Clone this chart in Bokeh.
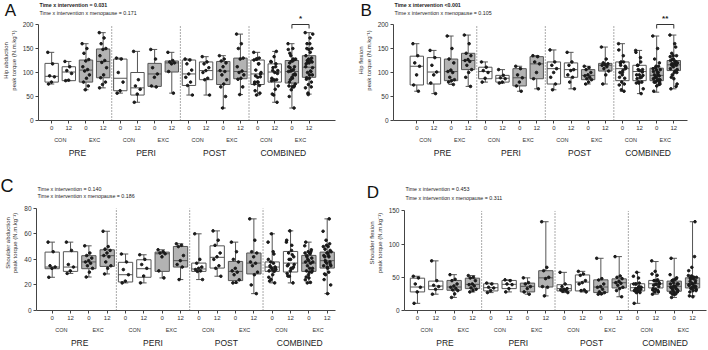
from bokeh.plotting import figure
from bokeh.models import Range1d, LinearAxis, FixedTicker, Label
from bokeh.layouts import column, row
from bokeh.embed import file_html
from bokeh.resources import INLINE

GROUPS = ["PRE", "PERI", "POST", "COMBINED"]
ARMS = ["CON", "EXC"]
TIMES = ["0", "12"]

# ---- Panel A: Hip abduction (box order per group: CON 0, CON 12, EXC 0, EXC 12)
A_min = [76, 83, 64, 68, 57, 38, 70, 57, 53, 53, 26, 54, 53, 38, 26, 55]
A_q1 = [80, 83, 80, 89, 62, 53, 71, 101, 73, 85, 75, 87, 75, 80, 78, 90]
A_med = [92, 101, 105, 123, 88, 68, 97, 120, 97, 104, 103, 102, 97, 101, 102, 111]
A_q3 = [119, 112, 126, 149, 128, 100, 119, 124, 126, 122, 123, 130, 126, 118, 125, 135]
A_max = [142, 123, 160, 183, 130, 144, 148, 142, 128, 133, 135, 180, 142, 144, 160, 183]
A_PRE_pts = [[142, 118, 93, 91, 80, 76], [123, 112, 104, 98, 84, 83],
             [160, 150, 140, 127, 124, 112, 106, 103, 95, 88, 80, 72, 64],
             [183, 172, 160, 150, 148, 135, 125, 121, 110, 95, 89, 80, 75, 68]]
A_PERI_pts = [[130, 128, 100, 80, 62, 57], [144, 85, 72, 65, 55, 38],
              [148, 128, 110, 97, 90, 72, 70], [142, 125, 122, 120, 118, 102, 57]]
A_POST_pts = [[128, 126, 118, 105, 97, 90, 80, 73, 53], [133, 122, 118, 110, 104, 100, 88, 85, 53],
              [135, 128, 124, 120, 112, 104, 102, 95, 85, 76, 70, 50, 26],
              [180, 160, 150, 130, 128, 112, 103, 100, 95, 88, 86, 70, 54]]

# ---- Panel B: Hip flexion
B_min = [61, 56, 75, 71, 80, 78, 61, 66, 64, 66, 76, 76, 61, 56, 59, 66]
B_q1 = [74, 76, 83, 106, 87, 80, 72, 87, 76, 90, 85, 103, 83, 83, 83, 104]
B_med = [113, 101, 102, 125, 102, 88, 89, 118, 108, 106, 94, 115, 108, 102, 94, 116]
B_q3 = [134, 131, 128, 140, 111, 94, 108, 133, 122, 120, 106, 119, 122, 115, 109, 125]
B_max = [160, 146, 176, 178, 122, 106, 113, 135, 147, 142, 113, 153, 160, 146, 176, 178]
B_PRE_pts = [[160, 135, 120, 113, 95, 74, 61], [146, 131, 115, 101, 95, 78, 56],
             [176, 150, 128, 120, 105, 102, 100, 90, 85, 83, 80, 75],
             [178, 160, 140, 135, 127, 125, 123, 115, 106, 100, 90, 71]]
B_PERI_pts = [[122, 111, 104, 100, 88, 80], [106, 94, 89, 87, 80, 78],
              [113, 108, 95, 89, 80, 72, 61], [135, 133, 122, 118, 100, 87, 66]]
B_POST_pts = [[147, 122, 115, 108, 100, 90, 76, 64], [142, 122, 115, 106, 104, 95, 90, 80, 66],
              [113, 110, 106, 100, 95, 93, 90, 87, 85, 80, 76],
              [153, 128, 120, 118, 116, 115, 112, 108, 103, 95, 76]]

# ---- Panel C: Shoulder abduction
C_min = [26, 29, 26.2, 28.6, 21.6, 21.6, 25.5, 24.2, 24.2, 26.8, 21.6, 13.2, 21.6, 21.6, 21.6, 13.2]
C_q1 = [32.7, 30.6, 32.7, 34.5, 22.3, 26, 30.6, 34, 30.6, 33.2, 23.4, 28.6, 30.6, 30.1, 30.6, 33.2]
C_med = [34, 34, 38, 42.9, 28, 32.7, 44.4, 39, 32.5, 41.6, 30.6, 37.1, 34, 37.1, 37.1, 39]
C_q3 = [45.7, 46, 42.9, 47.5, 37.7, 39.7, 45.7, 50.1, 37.1, 50.6, 38.4, 45, 38, 46.2, 43.1, 45.7]
C_max = [53.5, 53.5, 50.6, 62, 44.2, 43.6, 47.5, 52.2, 60, 62.3, 53.5, 71.7, 60, 62.3, 53.5, 71.7]
C_PRE_pts = [[53.5, 46, 35, 34, 33, 26], [53.5, 47, 36, 34, 31, 29],
             [50.6, 45, 43, 41, 39, 38, 37, 35, 33, 30, 26.2],
             [62, 50, 48, 47, 45, 43, 42, 38, 35, 33, 28.6]]
C_PERI_pts = [[44.2, 38, 32, 28, 23, 21.6], [43.6, 40, 36, 33, 27, 21.6],
              [47.5, 46, 45, 44.4, 42, 31, 25.5], [52.2, 51, 50, 43, 39, 36, 34, 24.2]]
C_POST_pts = [[60, 40, 37, 34, 33, 32, 31, 30.6, 24.2], [62.3, 55, 51, 45, 42, 40, 35, 33, 26.8],
              [53.5, 46, 40, 38, 33, 31, 30, 28, 24, 22, 21.6],
              [71.7, 55, 46, 45, 42, 38, 37, 35, 30, 28, 20, 13.2]]

# ---- Panel D: Shoulder flexion
D_min = [10.8, 24.6, 19.7, 28, 27, 28, 24.6, 22, 27, 28, 24.6, 20.7, 10.8, 24.6, 19.7, 22]
D_q1 = [28, 31.5, 30.5, 33, 29.5, 33, 28, 35.4, 29.5, 29.5, 27, 34, 29.5, 34, 29, 34]
D_med = [35.4, 36.9, 35.4, 39.4, 34.4, 39.4, 36.4, 49.2, 33, 42.8, 35.4, 41.8, 34.4, 40.3, 36.4, 40.3]
D_q3 = [48.7, 44.3, 45.3, 48.7, 40.3, 45.3, 41.3, 60, 38.9, 53.6, 46.2, 47.7, 40.3, 45.3, 44.3, 49.2]
D_max = [51.6, 74.8, 54, 52.6, 41.3, 46.2, 49.2, 133.8, 57.5, 59, 78.7, 81.2, 57.5, 73.8, 78.7, 133.8]
D_PRE_pts = [[51.6, 49, 40, 35, 28, 10.8], [74.8, 45, 38, 36, 32, 24.6],
             [54, 47, 45, 40, 37, 35, 33, 31, 30, 25, 19.7],
             [52.6, 50, 49, 45, 40, 39, 37, 34, 32, 30, 28]]
D_PERI_pts = [[41.3, 40, 35, 34, 30, 27], [46.2, 45, 40, 39, 33, 28],
              [49.2, 42, 40, 36, 33, 28, 24.6], [133.8, 65, 60, 50, 48, 36, 35, 22]]
D_POST_pts = [[57.5, 40, 36, 33, 32, 31, 30, 29, 27], [59, 55, 53, 45, 42, 40, 31, 30, 28],
              [78.7, 48, 46, 40, 36, 35, 32, 28, 27, 25, 24.6],
              [81.2, 52, 50, 48, 44, 42, 41, 38, 35, 33, 30, 20.7]]

A_notes = ["Time x intervention = 0.031", "Time x intervention x menopause = 0.171"]
B_notes = ["Time x intervention <0.001", "Time x intervention x menopause = 0.105"]
C_notes = ["Time x intervention = 0.140", "Time x intervention x menopause = 0.186"]
D_notes = ["Time x intervention = 0.453", "Time x intervention x menopause = 0.311"]

FONT = "Liberation Sans"
EXC_FILL = "#b3b3b3"
EDGE = "#555555"
AX = "#444444"

PANELS = [
    dict(letter="A", ylabel="Hip abduction\npeak torque (N.m.kg\u207b\u00b9)", ymax=200, yticks=[0, 50, 100, 150, 200],
         stats=(A_min, A_q1, A_med, A_q3, A_max), pts=(A_PRE_pts, A_PERI_pts, A_POST_pts), notes=A_notes, bold=True,
         sig=(14, 15, "*"), frame=(35, 335, 24, 120, 48.3, 308.3), letter_pos=(1, 0, 17), letter_side="right",
         note_pos=(36, 4.5, 12)),
    dict(letter="B", ylabel="Hip flexion\npeak torque (N.m.kg\u207b\u00b9)", ymax=200, yticks=[0, 50, 100, 150, 200],
         stats=(B_min, B_q1, B_med, B_q3, B_max), pts=(B_PRE_pts, B_PERI_pts, B_POST_pts), notes=B_notes, bold=True,
         sig=(14, 15, "**"), frame=(39, 333, 24, 120, 62.3, 319.3), letter_pos=(6, 0, 17), letter_side="right",
         note_pos=(40, 4.5, 12.5)),
    dict(letter="C", ylabel="Shoulder abduction\npeak torque (N.m.kg\u207b\u00b9)", ymax=80, yticks=[0, 20, 40, 60, 80],
         stats=(C_min, C_q1, C_med, C_q3, C_max), pts=(C_PRE_pts, C_PERI_pts, C_POST_pts), notes=C_notes, bold=False,
         sig=None, frame=(36, 335, 33, 136, 51.7, 326.7), letter_pos=(0, 1, 18), letter_side="right",
         note_pos=(37, 13.5, 21)),
    dict(letter="D", ylabel="Shoulder flexion\npeak torque (N.m.kg\u207b\u00b9)", ymax=150, yticks=[0, 50, 100, 150],
         stats=(D_min, D_q1, D_med, D_q3, D_max), pts=(D_PRE_pts, D_PERI_pts, D_POST_pts), notes=D_notes, bold=False,
         sig=None, frame=(49, 352, 36, 137, 62, 338), letter_pos=(11, 8, 17), letter_side="left",
         note_pos=(50, 14, 23)),
]


def make_panel(cfg):
    fl, fr, ytop, yzero, first, last = cfg["frame"]
    u = (last - first) / 30.0
    x0 = -(first - fl) / u
    x1 = 30 + (fr - last) / u
    ymax = cfg["ymax"]
    ppv = (yzero - ytop) / ymax
    y1 = ymax + ytop / ppv

    def dx(px):
        return x0 + (px - fl) / u

    def dy(py):
        return y1 - py / ppv

    p = figure(width=354, height=175, x_range=Range1d(x0, x1), y_range=Range1d(0, y1),
               output_backend="svg", toolbar_location=None,
               x_axis_location=None, y_axis_location=None,
               min_border_left=fl, min_border_right=354 - fr, min_border_top=0,
               min_border_bottom=175 - yzero)
    p.outline_line_color = None
    p.grid.visible = False

    # y axis
    yax = LinearAxis(ticker=FixedTicker(ticks=cfg["yticks"]), bounds=(0, ymax),
                     axis_label=cfg["ylabel"])
    yax.axis_line_color = AX
    yax.major_tick_line_color = AX
    yax.major_tick_out = 3
    yax.major_tick_in = 0
    yax.minor_tick_line_color = None
    yax.major_label_text_font = FONT
    yax.major_label_text_font_size = "6.5px"
    yax.major_label_text_color = "#333333"
    yax.major_label_standoff = 2
    yax.axis_label_text_font = FONT
    yax.axis_label_text_font_size = "6px"
    yax.axis_label_text_font_style = "normal"
    yax.axis_label_text_color = "#333333"
    yax.axis_label_standoff = 3
    p.add_layout(yax, "left")

    # x axes: time / arm / group
    box_x = [2 * i for i in range(16)]
    ax1 = LinearAxis(ticker=FixedTicker(ticks=box_x),
                     major_label_overrides={x: TIMES[i % 2] for i, x in enumerate(box_x)})
    ax1.axis_line_color = AX
    ax1.major_tick_line_color = AX
    ax1.major_tick_out = 3
    ax1.major_tick_in = 0
    ax1.minor_tick_line_color = None
    ax1.major_label_text_font = FONT
    ax1.major_label_text_font_size = "6px"
    ax1.major_label_text_color = "#333333"
    ax1.major_label_standoff = 2
    p.add_layout(ax1, "below")

    arm_x = [8 * g + 1 + 4 * a for g in range(4) for a in range(2)]
    ax2 = LinearAxis(ticker=FixedTicker(ticks=arm_x),
                     major_label_overrides={x: ARMS[i % 2] for i, x in enumerate(arm_x)})
    ax2.axis_line_color = None
    ax2.major_tick_line_color = None
    ax2.major_tick_out = 0
    ax2.major_tick_in = 0
    ax2.minor_tick_line_color = None
    ax2.major_label_text_font = FONT
    ax2.major_label_text_font_size = "5.5px"
    ax2.major_label_text_color = "#333333"
    ax2.major_label_standoff = 4
    p.add_layout(ax2, "below")

    grp_x = [8 * g + 3 for g in range(4)]
    ax3 = LinearAxis(ticker=FixedTicker(ticks=grp_x),
                     major_label_overrides={x: GROUPS[i] for i, x in enumerate(grp_x)})
    ax3.axis_line_color = None
    ax3.major_tick_line_color = None
    ax3.major_tick_out = 0
    ax3.major_tick_in = 0
    ax3.minor_tick_line_color = None
    ax3.major_label_text_font = FONT
    ax3.major_label_text_font_size = "8.5px"
    ax3.major_label_text_color = "#222222"
    ax3.major_label_standoff = 2
    p.add_layout(ax3, "below")

    # group separators
    sep = [8 * g - 1 for g in range(1, 4)]
    p.segment(x0=sep, y0=[0] * 3, x1=sep, y1=[ymax] * 3, line_color="#555555",
              line_width=1, line_dash="1 2")

    mn, q1, md, q3, mx = cfg["stats"]
    hw, cw = 0.78, 0.3
    p.segment(x0=box_x, y0=q3, x1=box_x, y1=mx, line_color=EDGE, line_width=1)
    p.segment(x0=box_x, y0=mn, x1=box_x, y1=q1, line_color=EDGE, line_width=1)
    p.segment(x0=[x - cw for x in box_x], y0=mx, x1=[x + cw for x in box_x], y1=mx, line_color=EDGE)
    p.segment(x0=[x - cw for x in box_x], y0=mn, x1=[x + cw for x in box_x], y1=mn, line_color=EDGE)
    fills = ["white" if (i % 4) < 2 else EXC_FILL for i in range(16)]
    p.vbar(x=box_x, bottom=q1, top=q3, width=2 * hw, fill_color=fills, line_color=EDGE, line_width=1)
    p.segment(x0=[x - hw for x in box_x], y0=md, x1=[x + hw for x in box_x], y1=md, line_color=EDGE,
              line_width=1)

    # points (combined = pre + peri + post)
    pre, peri, post = cfg["pts"]
    comb = [pre[k] + peri[k] + post[k] for k in range(4)]
    all_pts = [pre, peri, post, comb]
    px, py = [], []
    for g in range(4):
        for k in range(4):
            xc = 2 * (4 * g + k)
            for n, v in enumerate(all_pts[g][k]):
                off = (((n * 0.618034) % 1.0) - 0.5) * 0.9
                px.append(xc + off)
                py.append(v)
    p.scatter(px, py, size=2.6, fill_color="#1a1a1a", line_color="#1a1a1a")

    # significance bracket
    if cfg["sig"]:
        a, b, star = cfg["sig"]
        xa, xb = 2 * a, 2 * b
        lvl = ymax
        drop = 4 / ppv
        p.segment(x0=[xa, xa, xb], y0=[lvl - drop, lvl, lvl], x1=[xa, xb, xb], y1=[lvl, lvl, lvl - drop],
                  line_color="#333333", line_width=1)
        p.add_layout(Label(x=(xa + xb) / 2, y=dy(ytop - 6), text=star, text_align="center",
                           text_baseline="middle", text_font=FONT, text_font_size="8px",
                           text_font_style="bold", text_color="#222222"))

    # panel letter (in a side panel so it is not clipped) and notes
    lx, ly, ls = cfg["letter_pos"]
    p.add_layout(Label(x=dx(lx), y=dy(ly), text=cfg["letter"], text_align="left", text_baseline="top",
                       text_font=FONT, text_font_size=f"{ls}px", text_color="#111111"), cfg["letter_side"])
    nx, ny1, ny2 = cfg["note_pos"]
    p.add_layout(Label(x=dx(nx), y=dy(ny1), text=cfg["notes"][0], text_align="left", text_baseline="middle",
                       text_font=FONT, text_font_size="5.3px",
                       text_font_style="bold" if cfg["bold"] else "normal", text_color="#222222"))
    p.add_layout(Label(x=dx(nx), y=dy(ny2), text=cfg["notes"][1], text_align="left", text_baseline="middle",
                       text_font=FONT, text_font_size="5.3px", text_color="#222222"))
    return p


figs = [make_panel(c) for c in PANELS]
layout = column(row(figs[0], figs[1]), row(figs[2], figs[3]))
open("out.html", "w").write(file_html(layout, INLINE))
